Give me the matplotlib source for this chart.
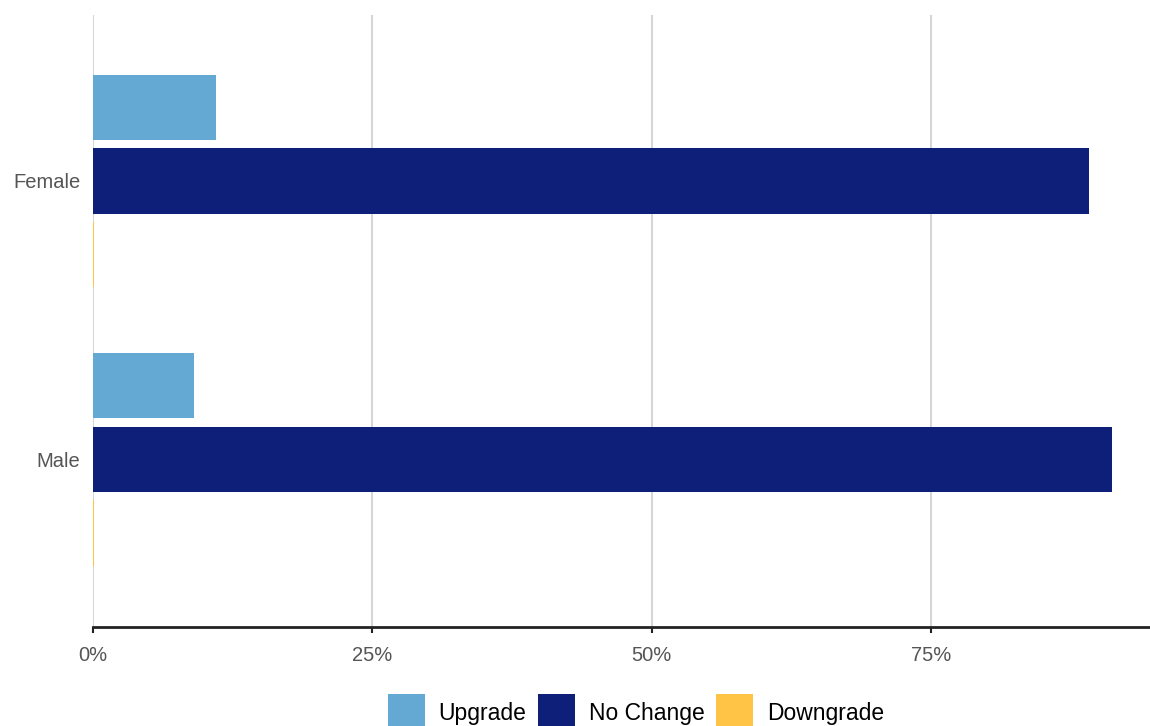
import matplotlib
matplotlib.use("Agg")

import matplotlib.pyplot as plt
from matplotlib.patches import Patch
import numpy as np

plt.rcParams["font.family"] = ["Liberation Sans", "DejaVu Sans"]

categories = ["Female", "Male"]
series_names = ["Upgrade", "No Change", "Downgrade"]
upgrade = [11.0, 9.0]
no_change = [89.1, 91.2]
downgrade = [0.1, 0.1]

colors = ["#64a8d4", "#0e1f7a", "#ffc445"]

W, H = 1150, 726
fig = plt.figure(figsize=(W / 100, H / 100), dpi=100)
ax = fig.add_axes([93 / W, (H - 627) / H, (1150 - 93) / W, (627 - 15) / H])

y = np.arange(len(categories))
step = 0.266
bar_h = 0.234
for i, (vals, col) in enumerate(zip([upgrade, no_change, downgrade], colors)):
    ax.barh(y + (i - 1) * step, vals, height=bar_h, color=col, zorder=3)

ax.set_xlim(0, 94.6)
ax.set_ylim(1.604, -0.597)
ax.set_xticks([0, 25, 50, 75])
ax.set_xticklabels(["0%", "25%", "50%", "75%"])
ax.set_yticks(y)
ax.set_yticklabels(categories)

ax.grid(axis="x", color="#d6d6d6", linewidth=1.5, zorder=0)
ax.grid(axis="y", visible=False)
for s in ["top", "right", "left"]:
    ax.spines[s].set_visible(False)
ax.spines["bottom"].set_color("#222222")
ax.spines["bottom"].set_linewidth(2)
ax.spines["bottom"].set_zorder(4)

ax.tick_params(axis="x", length=4, width=1.5, color="#222222", labelsize=14.5,
               labelcolor="#555555", pad=10)
ax.tick_params(axis="y", length=0, labelsize=14.5, labelcolor="#555555", pad=9)

handles = [Patch(facecolor=c, edgecolor="none") for c in colors]
fig.legend(handles, series_names, loc="upper center",
           bbox_to_anchor=(636 / W, (H - 694) / H), ncol=3, frameon=False,
           fontsize=16.5, handlelength=1.62, handleheight=2.11, handletextpad=0.6,
           columnspacing=0.5, borderaxespad=0, borderpad=0)

fig.savefig("out.png", dpi=100)
